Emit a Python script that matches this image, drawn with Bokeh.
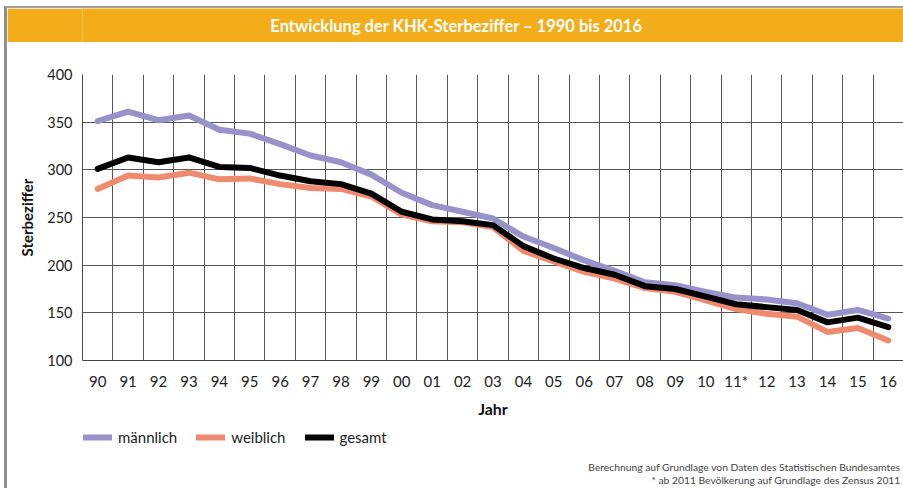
from bokeh.plotting import figure
from bokeh.layouts import column
from bokeh.models import (Range1d, FixedTicker, Grid, Label, Legend, LegendItem)
from bokeh.embed import file_html
from bokeh.resources import INLINE

# ---- data ----
years = ["90", "91", "92", "93", "94", "95", "96", "97", "98", "99", "00", "01", "02", "03",
         "04", "05", "06", "07", "08", "09", "10", "11*", "12", "13", "14", "15", "16"]
maennlich = [351, 361, 352, 357, 342, 338, 327, 315, 308, 295, 276, 263, 256, 249,
             230, 218, 205, 194, 182, 179, 172, 166, 164, 160, 148, 153, 144]
weiblich = [280, 294, 292, 297, 290, 291, 285, 281, 280, 272, 253, 246, 245, 240,
            215, 204, 193, 186, 176, 172, 163, 154, 149, 146, 130, 134, 121]
gesamt = [301, 313, 308, 313, 303, 302, 294, 288, 285, 275, 256, 248, 246, 242,
          220, 207, 197, 190, 178, 175, 167, 159, 156, 153, 140, 145, 135]
y_ticks = [100, 150, 200, 250, 300, 350, 400]
series_names = ["m\u00e4nnlich", "weiblich", "gesamt"]
series_colors = ["#9892CB", "#EE8A6E", "#000000"]

title_text = "Entwicklung der KHK-Sterbeziffer \u2013 1990 bis 2016"
note1 = "Berechnung auf Grundlage von Daten des Statistischen Bundesamtes"
note2 = "* ab 2011 Bev\u00f6lkerung auf Grundlage des Zensus 2011"

FONT = "Lato"
W = 896                     # canvas width (column adds a grey frame on the left/top)
LEFT = 75                   # frame left inside each canvas
FW = W - LEFT               # frame width
H_TITLE, H_MAIN, H_FOOT = 34, 378, 68
xs = list(range(len(years)))

# ---------------- title bar ----------------
pt = figure(width=W, height=H_TITLE, output_backend="svg", toolbar_location=None,
            x_range=Range1d(0, FW), y_range=Range1d(H_TITLE, 0),
            min_border_left=LEFT, min_border_right=0, min_border_top=0, min_border_bottom=0,
            x_axis_location=None, y_axis_location=None)
pt.grid.visible = False
pt.outline_line_color = None
pt.background_fill_color = "#F3AD1B"
pt.border_fill_color = "#F3AD1B"
pt.add_layout(Label(x=374, y=17, text=title_text,
                    text_font=FONT, text_font_style="bold", text_font_size="16.5px",
                    text_color="white", text_align="center", text_baseline="middle"))

# ---------------- main chart ----------------
p = figure(width=W, height=H_MAIN, output_backend="svg", toolbar_location=None,
           x_range=Range1d(-0.5, len(years) - 0.5), y_range=Range1d(100, 400),
           min_border_left=LEFT, min_border_right=0, min_border_top=32, min_border_bottom=59)
p.background_fill_color = "white"
p.border_fill_color = "white"
p.outline_line_color = None

p.xaxis.ticker = FixedTicker(ticks=xs)
p.xaxis.major_label_overrides = {i: lab for i, lab in enumerate(years)}
p.yaxis.ticker = FixedTicker(ticks=y_ticks)
for ax in (p.xaxis[0], p.yaxis[0]):
    ax.major_tick_line_color = None
    ax.minor_tick_line_color = None
    ax.major_tick_out = 0
    ax.major_tick_in = 0
    ax.minor_tick_out = 0
    ax.minor_tick_in = 0
    ax.axis_line_color = "#444444"
    ax.major_label_text_font = FONT
    ax.major_label_text_color = "#222222"
    ax.axis_label_text_font = FONT
    ax.axis_label_text_font_style = "bold"
    ax.axis_label_text_color = "#111111"
p.xaxis.major_label_text_font_size = "15px"
p.yaxis.major_label_text_font_size = "14.5px"
p.xaxis.major_label_standoff = 11
p.yaxis.major_label_standoff = 10
p.xaxis.axis_label = "Jahr"
p.xaxis.axis_label_text_font_size = "16px"
p.xaxis.axis_label_standoff = 6
p.yaxis.axis_label = "Sterbeziffer"
p.yaxis.axis_label_text_font_size = "15px"
p.yaxis.axis_label_standoff = 8

p.xgrid.grid_line_color = None
p.ygrid.ticker = FixedTicker(ticks=y_ticks[1:])
p.ygrid.grid_line_color = "#555555"
p.ygrid.grid_line_width = 1
p.add_layout(Grid(dimension=0, ticker=FixedTicker(ticks=[i + 0.5 for i in xs[:-1]]),
                  grid_line_color="#555555", grid_line_width=1))

series = [maennlich, weiblich, gesamt]
for vals, col in zip(series, series_colors):
    p.line(xs, vals, line_color=col, line_width=6, line_join="round", line_cap="round")

# ---------------- footer: legend + notes ----------------
pf = figure(width=W, height=H_FOOT, output_backend="svg", toolbar_location=None,
            x_range=Range1d(0, FW), y_range=Range1d(H_FOOT, 0),
            min_border_left=LEFT, min_border_right=0, min_border_top=0, min_border_bottom=0,
            x_axis_location=None, y_axis_location=None)
pf.grid.visible = False
pf.outline_line_color = None
pf.background_fill_color = "white"
pf.border_fill_color = "white"
items = []
for name, vals, col in zip(series_names, series, series_colors):
    # the series lie outside this strip's y range, only their legend swatch shows
    r = pf.line(xs, vals, line_color=col, line_width=6, line_cap="round")
    items.append(LegendItem(label=name, renderers=[r]))
legend = Legend(items=items, orientation="horizontal", location=(1, 41),
                glyph_width=29, glyph_height=20, label_standoff=6, spacing=19,
                padding=0, margin=0, border_line_color=None, background_fill_alpha=0,
                label_text_font=FONT, label_text_font_size="15px", label_text_color="#222222")
pf.add_layout(legend, "center")
pf.add_layout(Label(x=818, y=46, text=note1,
                    text_font=FONT, text_font_size="10.3px", text_color="#444444",
                    text_align="right", text_baseline="middle"))
pf.add_layout(Label(x=818, y=59, text=note2,
                    text_font=FONT, text_font_size="10.3px", text_color="#444444",
                    text_align="right", text_baseline="middle"))

layout = column(pt, p, pf, spacing=0,
                styles={"margin-left": "4px", "margin-top": "6px",
                        "border-left": "3px solid #8f8f8f", "border-top": "2px solid #a0a0a0"})
open("out.html", "w").write(file_html(layout, INLINE))
